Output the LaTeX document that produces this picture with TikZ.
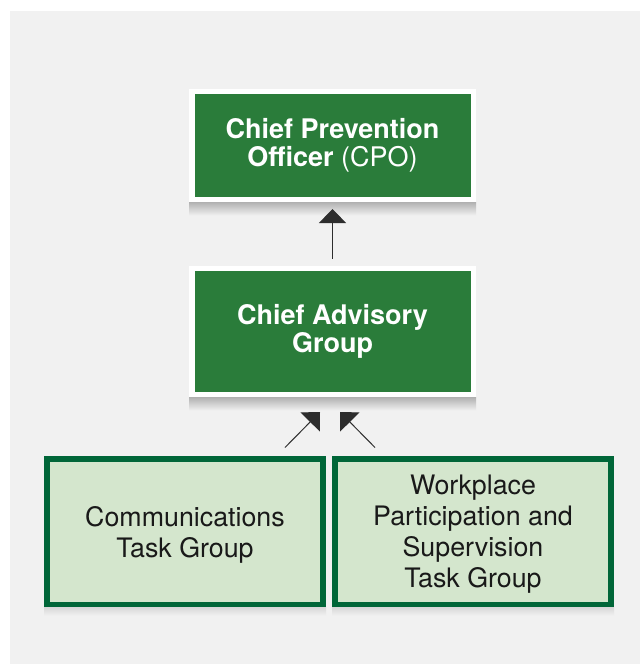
\documentclass[tikz,border=0pt]{standalone}
\usepackage{fontspec}
\setmainfont{TeX Gyre Heros}
\usetikzlibrary{positioning}
\usetikzlibrary{calc}
\usetikzlibrary{arrows.meta}
\definecolor{leafgreen}{RGB}{42,124,58}
\definecolor{pinegreen}{RGB}{0,102,56}
\definecolor{mintgreen}{RGB}{212,230,205}
\definecolor{panelgrey}{RGB}{241,241,241}
\definecolor{inkgrey}{RGB}{45,45,45}

\begin{document}
\begin{tikzpicture}[
    x=1pt, y=1pt,
    >={Triangle[length=14pt,width=27pt]},
    % node styles
    lead/.style = {
      draw=white,
      line width=5.5pt,
      fill=leafgreen,
      minimum width=281.5pt,
      align=center,
      font=\fontsize{27}{27.5}\selectfont,
      text=white
    },
    task/.style = {
      draw=pinegreen,
      line width=6pt,
      fill=mintgreen,
      minimum width=276pt,
      minimum height=146pt,
      align=center,
      text depth=0pt,
      font=\fontsize{26.8}{31}\selectfont,
      text=black!90
    },
    % arrow styles
    arr/.style = {->, line width=1pt, draw=inkgrey},
    drop/.style = {top color=black!30, bottom color=panelgrey, draw=none}
  ]

  % --- Panel
  \fill[white] (0,0) rectangle (640,-664);
  \fill[panelgrey] (10,-11) rectangle (640,-664);
  \useasboundingbox (0,0) rectangle (640,-664);

  % --- Nodes
  \node[lead, minimum height=108.5pt] (cpo) at (332.5,-145.5)
    {\textbf{Chief Prevention}\\\textbf{Officer} (CPO)};

  \node[lead, minimum height=126.5pt, below=63pt of cpo] (cag)
    {\textbf{Chief Advisory}\\\textbf{Group}};

  \node[task, below left=58pt and 6.5pt of cag.south] (comm)
    {Communications\\Task Group};

  \node[task, right=6pt of comm] (wpst)
    {Workplace\\Participation and\\Supervision\\Task Group};

  % --- Shadows
  \shade[drop] (cpo.south west) rectangle ($(cpo.south east)+(0,-13)$);
  \shade[drop] (cag.south west) rectangle ($(cag.south east)+(0,-13)$);
  \shade[drop, top color=black!15] (comm.south west) rectangle ($(comm.south east)+(0,-8)$);
  \shade[drop, top color=black!15] (wpst.south west) rectangle ($(wpst.south east)+(0,-8)$);

  % --- Arrows
  \draw[arr, shorten <=7pt, shorten >=6.5pt] (cag.north) -- (cpo.south);
  \draw[arr] ($(comm.north east)+(-41,8)$) -- ($(cag.south)+(-12.5,-14.5)$);
  \draw[arr] ($(wpst.north west)+(43,8)$) -- ($(cag.south)+(7.5,-14.5)$);

\end{tikzpicture}
\end{document}
